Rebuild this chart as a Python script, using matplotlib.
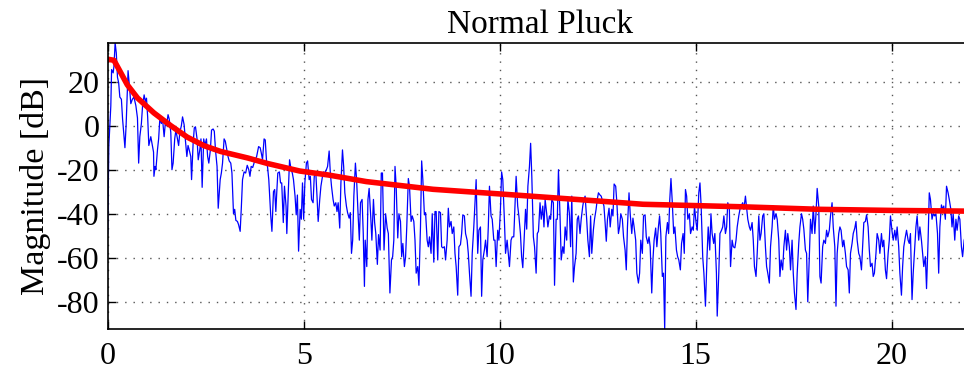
import matplotlib
matplotlib.use("Agg")
import matplotlib.pyplot as plt

# spectrum of the plucked string (kHz, dB)
freq_khz = [
    0.00, 0.03, 0.08, 0.10, 0.14, 0.16, 0.19, 0.22, 0.25, 0.28, 0.31, 0.35, 0.38, 0.42, 0.44, 0.47,
    0.49, 0.52, 0.55, 0.59, 0.63, 0.67, 0.72, 0.76, 0.79, 0.82, 0.86, 0.89, 0.93, 0.96, 0.99, 1.02,
    1.05, 1.10, 1.13, 1.17, 1.18, 1.21, 1.23, 1.27, 1.30, 1.33, 1.37, 1.40, 1.44, 1.47, 1.50, 1.54,
    1.57, 1.61, 1.64, 1.67, 1.71, 1.74, 1.78, 1.81, 1.84, 1.88, 1.91, 1.95, 1.98, 2.02, 2.05, 2.08,
    2.12, 2.14, 2.18, 2.21, 2.24, 2.28, 2.31, 2.35, 2.38, 2.41, 2.45, 2.48, 2.52, 2.55, 2.58, 2.62,
    2.65, 2.69, 2.72, 2.75, 2.79, 2.82, 2.87, 2.90, 2.93, 2.97, 3.00, 3.04, 3.07, 3.10, 3.14, 3.17,
    3.21, 3.24, 3.27, 3.31, 3.34, 3.38, 3.41, 3.44, 3.48, 3.52, 3.56, 3.60, 3.63, 3.66, 3.70, 3.75,
    3.80, 3.85, 3.89, 3.92, 3.95, 3.99, 4.02, 4.05, 4.08, 4.11, 4.16, 4.19, 4.23, 4.26, 4.29, 4.31,
    4.34, 4.38, 4.41, 4.44, 4.48, 4.51, 4.55, 4.57, 4.61, 4.64, 4.68, 4.71, 4.74, 4.78, 4.81, 4.84,
    4.87, 4.91, 4.94, 4.97, 5.00, 5.03, 5.07, 5.10, 5.14, 5.17, 5.20, 5.24, 5.27, 5.31, 5.34, 5.37,
    5.41, 5.44, 5.48, 5.51, 5.54, 5.58, 5.61, 5.65, 5.68, 5.71, 5.75, 5.78, 5.82, 5.85, 5.88, 5.92,
    5.95, 5.99, 6.02, 6.05, 6.09, 6.12, 6.16, 6.19, 6.22, 6.25, 6.28, 6.32, 6.35, 6.39, 6.42, 6.45,
    6.49, 6.52, 6.55, 6.57, 6.61, 6.64, 6.67, 6.71, 6.74, 6.78, 6.81, 6.84, 6.88, 6.91, 6.95, 6.98,
    7.01, 7.05, 7.09, 7.13, 7.16, 7.20, 7.24, 7.27, 7.30, 7.33, 7.36, 7.40, 7.43, 7.47, 7.50, 7.53,
    7.57, 7.60, 7.63, 7.67, 7.70, 7.74, 7.77, 7.81, 7.84, 7.87, 7.91, 7.94, 7.98, 8.01, 8.04, 8.08,
    8.11, 8.15, 8.18, 8.21, 8.25, 8.28, 8.32, 8.35, 8.38, 8.42, 8.45, 8.49, 8.52, 8.55, 8.59, 8.62,
    8.66, 8.69, 8.72, 8.76, 8.79, 8.83, 8.86, 8.89, 8.93, 8.96, 9.00, 9.03, 9.06, 9.10, 9.13, 9.17,
    9.20, 9.23, 9.27, 9.30, 9.34, 9.37, 9.40, 9.44, 9.47, 9.51, 9.54, 9.57, 9.61, 9.64, 9.68, 9.71,
    9.74, 9.78, 9.81, 9.85, 9.88, 9.91, 9.95, 9.98, 10.02, 10.05, 10.08, 10.12, 10.15, 10.19, 10.22, 10.25,
    10.29, 10.32, 10.36, 10.39, 10.42, 10.46, 10.49, 10.53, 10.56, 10.59, 10.63, 10.66, 10.69, 10.72, 10.76, 10.79,
    10.82, 10.86, 10.89, 10.93, 10.96, 10.99, 11.03, 11.06, 11.10, 11.13, 11.16, 11.20, 11.23, 11.27, 11.30, 11.33,
    11.37, 11.40, 11.44, 11.47, 11.50, 11.54, 11.57, 11.61, 11.64, 11.67, 11.71, 11.74, 11.78, 11.81, 11.84, 11.88,
    11.91, 11.95, 11.98, 12.01, 12.05, 12.08, 12.12, 12.15, 12.18, 12.22, 12.25, 12.29, 12.32, 12.35, 12.39, 12.42,
    12.46, 12.49, 12.52, 12.56, 12.59, 12.63, 12.66, 12.69, 12.72, 12.75, 12.79, 12.82, 12.86, 12.89, 12.92, 12.96,
    12.99, 13.03, 13.06, 13.09, 13.13, 13.16, 13.20, 13.23, 13.26, 13.30, 13.33, 13.37, 13.40, 13.43, 13.47, 13.50,
    13.54, 13.57, 13.60, 13.64, 13.67, 13.71, 13.74, 13.78, 13.81, 13.84, 13.88, 13.91, 13.94, 13.98, 14.01, 14.05,
    14.08, 14.11, 14.15, 14.18, 14.21, 14.24, 14.28, 14.31, 14.34, 14.37, 14.40, 14.44, 14.47, 14.51, 14.54, 14.57,
    14.61, 14.64, 14.68, 14.71, 14.74, 14.77, 14.80, 14.84, 14.87, 14.91, 14.94, 14.97, 15.01, 15.04, 15.08, 15.11,
    15.14, 15.18, 15.21, 15.25, 15.29, 15.32, 15.36, 15.39, 15.42, 15.46, 15.49, 15.53, 15.55, 15.59, 15.62, 15.66,
    15.69, 15.72, 15.76, 15.79, 15.82, 15.86, 15.89, 15.93, 15.96, 16.00, 16.03, 16.06, 16.10, 16.13, 16.16, 16.20,
    16.23, 16.27, 16.30, 16.33, 16.37, 16.40, 16.44, 16.47, 16.50, 16.54, 16.57, 16.61, 16.64, 16.67, 16.71, 16.74,
    16.78, 16.81, 16.84, 16.88, 16.91, 16.95, 16.98, 17.01, 17.05, 17.08, 17.12, 17.15, 17.18, 17.22, 17.25, 17.29,
    17.32, 17.35, 17.39, 17.42, 17.46, 17.49, 17.52, 17.56, 17.59, 17.63, 17.66, 17.70, 17.73, 17.76, 17.80, 17.83,
    17.86, 17.90, 17.93, 17.97, 18.00, 18.04, 18.07, 18.10, 18.14, 18.17, 18.20, 18.24, 18.27, 18.31, 18.34, 18.37,
    18.41, 18.44, 18.48, 18.51, 18.55, 18.58, 18.61, 18.65, 18.68, 18.71, 18.75, 18.78, 18.82, 18.85, 18.89, 18.92,
    18.95, 18.99, 19.02, 19.06, 19.09, 19.12, 19.16, 19.19, 19.23, 19.26, 19.29, 19.33, 19.36, 19.40, 19.43, 19.46,
    19.50, 19.53, 19.56, 19.60, 19.63, 19.67, 19.70, 19.74, 19.77, 19.80, 19.84, 19.87, 19.91, 19.94, 19.97, 20.01,
    20.04, 20.08, 20.11, 20.14, 20.18, 20.21, 20.25, 20.28, 20.31, 20.35, 20.38, 20.42, 20.45, 20.48, 20.52, 20.55,
    20.59, 20.62, 20.65, 20.69, 20.72, 20.76, 20.79, 20.82, 20.86, 20.89, 20.93, 20.96, 20.99, 21.03, 21.06, 21.10,
    21.13, 21.17, 21.20, 21.23, 21.27, 21.30, 21.33, 21.37, 21.40, 21.44, 21.47, 21.51, 21.54, 21.57, 21.61, 21.64,
    21.67, 21.71, 21.74, 21.78, 21.81, 21.85, 21.95, 22.05,
]
mag_db = [
    -49, -9, 9, 25.5, 24, 27, 37.6, 33, 22, 19.5, 13, 12, 3, -6, -10, 0,
    10, 25, 19, 10, 12, 13, 9, 3.5, -17, -5, 1, 9, 14, 11, 12.5, 4,
    -9, -5, -8, -12, -23, -18.5, -20, -11, -6, 3, 1, 3, -5, 1, 0, 5,
    3, -3, -20, -17, -6, -2, -6, -9, -3, 0, 4, 0.5, -6, -14, -9, -11,
    -14, -24.5, -8, -1, -0.5, -6, -15.5, -11, -6, -28, -6, -9, -6, -14, -17, -11,
    -2, -1.5, -2.5, -11, -18.5, -37.5, -24.5, -21.5, -17, -6, -7, -11, -14, -16, -17, -21.5,
    -40, -38, -43, -43.5, -45, -48, -37, -24.5, -21, -21.5, -18, -20, -23, -18.5, -19, -16,
    -14, -9.5, -10, -12.5, -15.5, -6, -6.5, -15.5, -19, -24.5, -41, -48, -30, -29, -39, -31.5,
    -21.5, -21, -26, -26, -44, -27.5, -36.5, -49, -29, -15.5, -20, -21.5, -24.5, -32, -40.5, -31.5,
    -57, -38, -42.5, -26, -42.5, -26, -17, -16, -24.5, -23, -33.5, -35, -23, -21.5, -32, -43.5,
    -33.5, -27.5, -23, -21, -21.5, -20, -18.5, -11.5, -21.5, -27.5, -33.5, -36.5, -35, -39, -35, -46.5,
    -26, -11, -18.5, -30.5, -36.5, -39.5, -42, -39.5, -58, -52, -32, -17, -24.5, -41, -52, -35,
    -33.5, -49, -73, -52, -64, -33.5, -28.5, -41, -52, -33.5, -44, -49, -63, -49.5, -56.5, -21.5,
    -21.5, -56.5, -40, -46.5, -49, -76, -61, -59.5, -52, -18.5, -27.5, -51, -40, -43.5, -59.5, -53.5,
    -64, -59.5, -46, -24, -27.5, -43.5, -41, -43.5, -52, -67, -64, -72.5, -46, -16, -24.5, -40.5,
    -39.5, -52, -55, -50.5, -58, -40, -62, -39, -39, -61, -39, -39.5, -55, -55.5, -55, -61,
    -52, -37.5, -46, -43.5, -49, -46, -58, -64, -77, -55, -54, -49, -40.5, -41, -49, -52,
    -58, -67, -77.5, -58, -46, -35, -24.5, -58, -47.5, -46, -77.5, -61, -56.5, -52, -59.5, -46,
    -27.5, -41, -42.5, -52, -52, -64, -47.5, -52, -38, -21, -24.5, -42.5, -58, -52, -58, -64,
    -52, -50.5, -50.5, -36.5, -23, -36.5, -41, -49, -59.5, -64.5, -49, -38, -47, -27.5, -18.5, -8,
    -23, -50.5, -55, -67, -49, -48, -35, -42.5, -36.5, -46, -33.5, -40, -46, -41, -42.5, -33.5,
    -35, -72.5, -42.5, -42.5, -20, -41, -61, -55, -58, -46, -52, -33.5, -40, -55, -32, -71,
    -64, -58, -42.5, -41, -49, -42.5, -36.5, -33.5, -32, -42.5, -52, -59.5, -41, -58, -47.5, -42.5,
    -38, -33.5, -30.5, -31.5, -32, -34.5, -36.5, -44, -52.5, -42.5, -37.5, -46, -38, -41, -26.5, -27.5,
    -35, -49, -46, -40, -42.5, -50.5, -56.5, -65.5, -46, -30.5, -40, -49, -42, -46, -52, -67,
    -71.5, -67, -52, -58, -41, -40.5, -50.5, -53.5, -50.5, -55, -76, -61, -52, -46.5, -55, -46,
    -41, -49, -68.5, -67, -92.5, -50.5, -44, -49, -33.5, -24, -33.5, -49, -46, -56.5, -59.5, -61,
    -65.5, -53.5, -49, -58, -29, -32, -42.5, -40, -49, -46, -47.5, -36.5, -44, -47.5, -30.5, -26,
    -36.5, -59.5, -67, -82, -59.5, -46, -56.5, -40, -49, -53.5, -49, -67, -86.5, -67, -49, -47.5,
    -46, -41, -49, -46, -35, -38, -64, -52, -55, -55.5, -52, -46, -41, -38, -36.5, -35,
    -38, -32, -37.5, -42.5, -46, -47.5, -44, -52, -64, -68.5, -58, -41, -52, -49, -41, -40,
    -55, -64, -67, -71.5, -55, -46, -36.5, -42.5, -40, -42.5, -52, -68.5, -61, -65.5, -55, -47.5,
    -56.5, -49, -55, -65.5, -52, -67, -76, -83.5, -67, -53.5, -46, -40, -42.5, -47, -56.5, -58,
    -80, -59.5, -42.5, -49, -36.5, -49, -40, -28.5, -36.5, -68.5, -71.5, -55, -52, -53.5, -47.5, -50.5,
    -47.5, -41, -35, -46, -55, -82, -58, -49, -46, -47.5, -55, -52, -58, -64, -65.5, -76,
    -58, -53.5, -49, -46.5, -43.5, -52, -58, -59.5, -65.5, -55, -44, -43.5, -40.5, -46, -56.5, -64,
    -62.5, -68.5, -67, -58, -49, -52, -58, -49, -55, -52, -65.5, -69.5, -58, -52, -41, -48,
    -52, -47.5, -52, -46, -55, -67, -77, -64, -55, -50.5, -47.5, -52, -53.5, -49, -79, -67,
    -55, -46, -41, -52, -46, -52, -58, -64, -59.5, -74, -52, -30.5, -33.5, -42.5, -40, -41,
    -40, -49, -67, -46, -36, -38, -36.5, -42.5, -27.5, -30.5, -33.5, -38, -46, -40, -52, -42.5,
    -47.5, -41, -42.5, -55, -59.5, -52, -46, -50,
]

# smooth envelope (red)
env_khz = [0.0, 0.16, 0.29, 0.5, 0.76, 1.18, 1.61, 2.03, 2.46, 2.88, 3.58, 4.06, 4.9, 5.63,
           6.6, 8.3, 10.0, 11.96, 13.66, 16.1, 18.17, 20.04, 21.84, 22.05]
env_db = [30.2, 29.7, 25.5, 18.6, 12.6, 5.8, 0.0, -5.2, -9.1, -11.7, -14.7, -17.1, -20.6, -22.4,
          -25.4, -28.9, -31.0, -33.5, -35.7, -36.8, -38.0, -38.5, -38.8, -38.9]

x_ticks = [0, 5, 10, 15, 20]
y_ticks = [-80, -60, -40, -20, 0, 20]

plt.rcParams["font.family"] = ["Liberation Serif", "DejaVu Serif"]
plt.rcParams["axes.unicode_minus"] = False

fig = plt.figure(figsize=(9.64, 3.71), dpi=100)
ax = fig.add_axes([0.1117, 0.1124, 0.8966, 0.7725])

ax.plot(freq_khz, mag_db, color="#0000ff", linewidth=0.9)
ax.plot(env_khz, env_db, color="#ff0000", linewidth=4.0, solid_capstyle="butt")

ax.set_xlim(0, 22.05)
ax.set_ylim(-92.5, 37.7)
ax.set_xticks(x_ticks)
ax.set_yticks(y_ticks)
ax.grid(True, color="#555555", linestyle=(0, (1, 5)), linewidth=1.0)
ax.tick_params(direction="in", top=True, right=True, length=6, width=1,
               labelsize=23, pad=6)
ax.tick_params(axis="x", pad=9)
for sp in ax.spines.values():
    sp.set_linewidth(1.2)

ax.set_title("Normal Pluck", fontsize=24, pad=7)
ax.set_ylabel("Magnitude [dB]", fontsize=24.5, labelpad=4)

fig.savefig("out.png", dpi=100)
